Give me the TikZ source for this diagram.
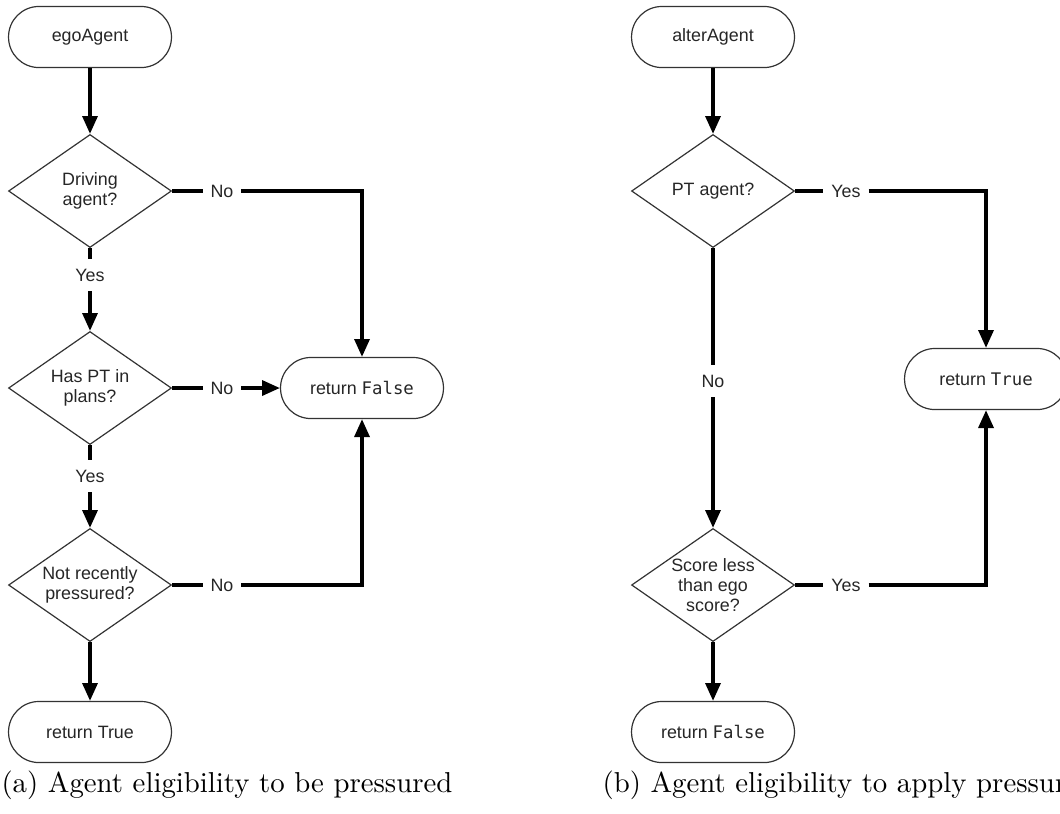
\documentclass[tikz,border=0pt]{standalone}
\usepackage{fontspec}
\setsansfont{Liberation Sans}
\setmonofont{DejaVu Sans Mono}
\usetikzlibrary{shapes.geometric,arrows.meta}

\tikzset{
  term/.style={draw=black!80, line width=0.45pt, rectangle, rounded corners=11.4pt,
    minimum width=61.1pt, minimum height=22.9pt, inner sep=0pt,
    font=\sffamily\fontsize{6.7}{7.6}\selectfont, text=black!85},
  decision/.style={draw=black!80, line width=0.45pt, diamond, aspect=1.44,
    minimum width=61.1pt, minimum height=42.4pt, inner sep=0pt, align=center,
    font=\sffamily\fontsize{6.7}{7.6}\selectfont, text=black!85},
  lbl/.style={inner xsep=2.8pt, inner ysep=3.6pt,
    font=\sffamily\fontsize{6.7}{7.6}\selectfont, text=black!85},
  link/.style={line width=1.3pt, black},
  flow/.style={link, -{Triangle[length=6.7pt,width=5.6pt]}},
  caption/.style={anchor=base west, inner sep=0pt, font=\fontsize{10.8}{13}\selectfont}
}
\newcommand{\mono}[1]{{\ttfamily\fontsize{6.5}{7.6}\selectfont #1}}

\begin{document}
\begin{tikzpicture}[x=0.375pt,y=-0.375pt]
\useasboundingbox (0,0) rectangle (1060,813);
\clip (0,0) rectangle (1060,813);

% ---- (a) eligibility to be pressured ----
\node[term] (ego) at (90,37) {egoAgent};
\node[decision] (d1) at (90,191) {Driving\\agent?};
\node[lbl] (y1) at (90,275) {Yes};
\node[decision] (d2) at (90,388) {Has PT in\\plans?};
\node[lbl] (y2) at (90,476) {Yes};
\node[decision] (d3) at (90,585) {Not recently\\pressured?};
\node[term] (rt) at (90,732) {return True};
\node[lbl] (n1) at (222,191) {No};
\node[lbl] (n2) at (222,388) {No};
\node[lbl] (n3) at (222,585) {No};
\node[term] (rf) at (362,388) {return \mono{False}};

\draw[flow] (ego.south) -- (d1.north);
\draw[link] (d1.south) -- (y1.north);
\draw[flow] (y1.south) -- (d2.north);
\draw[link] (d2.south) -- (y2.north);
\draw[flow] (y2.south) -- (d3.north);
\draw[flow] (d3.south) -- (rt.north);
\draw[link] (d1.east) -- (n1.west);
\draw[flow] (n1.east) -| (rf.north);
\draw[link] (d2.east) -- (n2.west);
\draw[flow] (n2.east) -- (rf.west);
\draw[link] (d3.east) -- (n3.west);
\draw[flow] (n3.east) -| (rf.south);

\node[caption] (capa) at (1,792) {(a) Agent eligibility to be pressured};

% ---- (b) eligibility to apply pressure ----
\node[term] (alt) at (713,37) {alterAgent};
\node[decision] (p1) at (713,191) {PT agent?};
\node[lbl] (ya) at (846,191) {Yes};
\node[term] (rT) at (986,379) {return \mono{True}};
\node[lbl] (na) at (713,381) {No};
\node[decision] (p2) at (713,585) {Score less\\than ego\\score?};
\node[lbl] (yb) at (846,585) {Yes};
\node[term] (rF) at (713,732) {return \mono{False}};

\draw[flow] (alt.south) -- (p1.north);
\draw[link] (p1.east) -- (ya.west);
\draw[flow] (ya.east) -| (rT.north);
\draw[link] (p1.south) -- (na.north);
\draw[flow] (na.south) -- (p2.north);
\draw[link] (p2.east) -- (yb.west);
\draw[flow] (yb.east) -| (rT.south);
\draw[flow] (p2.south) -- (rF.north);

\node[caption] (capb) at (602,792) {(b) Agent eligibility to apply pressure};
\end{tikzpicture}
\end{document}
